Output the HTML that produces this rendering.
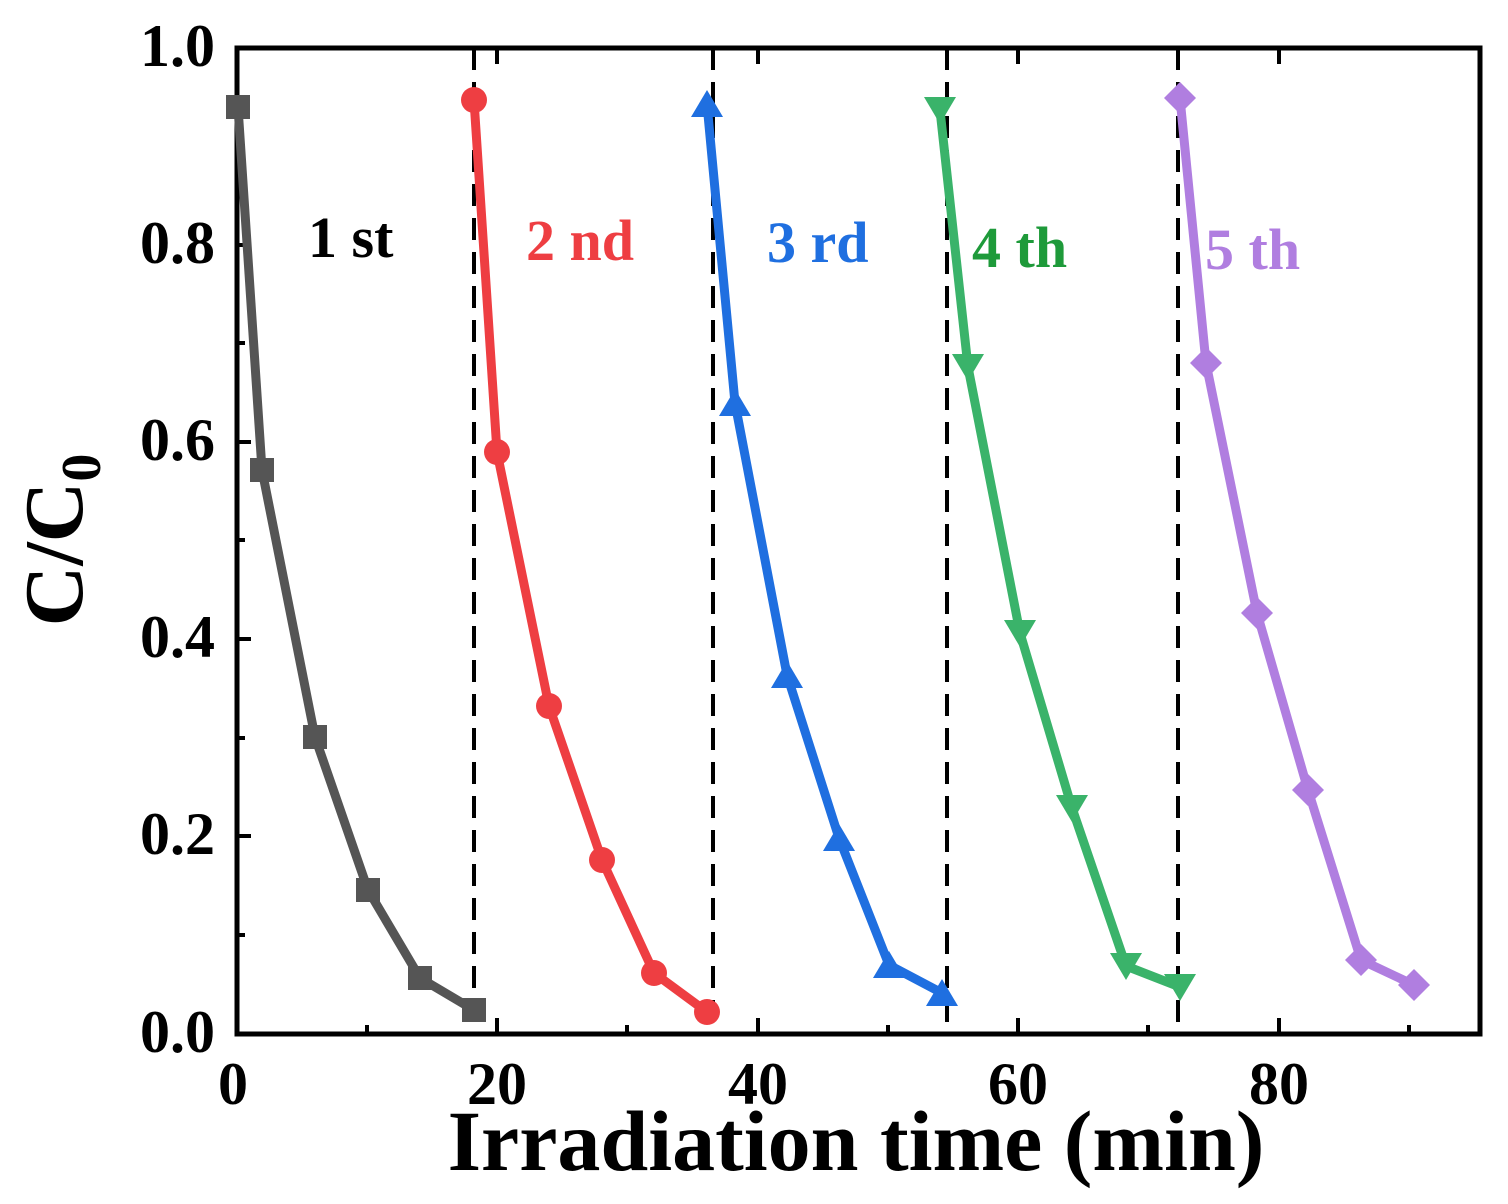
<!DOCTYPE html>
<html><head><style>html,body{margin:0;padding:0;background:#fff}</style></head>
<body>
<svg width="1508" height="1199" viewBox="0 0 1508 1199" xmlns="http://www.w3.org/2000/svg" font-family="Liberation Serif, serif" font-weight="bold">
<rect x="237" y="48" width="1243" height="986" fill="none" stroke="#000" stroke-width="5"/>
<g stroke="#000" stroke-width="4">
<line x1="237" y1="836" x2="251" y2="836"/><line x1="237" y1="639" x2="251" y2="639"/><line x1="237" y1="442" x2="251" y2="442"/><line x1="237" y1="245" x2="251" y2="245"/>
<line x1="237" y1="935" x2="245" y2="935"/><line x1="237" y1="738" x2="245" y2="738"/><line x1="237" y1="540" x2="245" y2="540"/><line x1="237" y1="343" x2="245" y2="343"/><line x1="237" y1="146" x2="245" y2="146"/>
<line x1="497" y1="1034" x2="497" y2="1018"/><line x1="758" y1="1034" x2="758" y2="1018"/><line x1="1018" y1="1034" x2="1018" y2="1018"/><line x1="1279" y1="1034" x2="1279" y2="1018"/>
<line x1="367" y1="1034" x2="367" y2="1025"/><line x1="627" y1="1034" x2="627" y2="1025"/><line x1="888" y1="1034" x2="888" y2="1025"/><line x1="1148" y1="1034" x2="1148" y2="1025"/><line x1="1409" y1="1034" x2="1409" y2="1025"/>
<line x1="497" y1="48" x2="497" y2="64"/><line x1="758" y1="48" x2="758" y2="64"/><line x1="1018" y1="48" x2="1018" y2="64"/><line x1="1279" y1="48" x2="1279" y2="64"/>
</g>
<g stroke="#000" stroke-width="4" stroke-dasharray="22,12">
<line x1="474" y1="48" x2="474" y2="1034"/><line x1="713" y1="48" x2="713" y2="1034"/><line x1="947" y1="48" x2="947" y2="1034"/><line x1="1178" y1="48" x2="1178" y2="1034"/>
</g>
<g fill="none" stroke-width="9" stroke-linejoin="round">
<polyline stroke="#555" points="238,107 262,470 315,737 368,890 420,978 474,1010"/>
<polyline stroke="#ee3e42" points="474,100 497,452 549,706 602,860 654,973 707,1012"/>
<polyline stroke="#1f6fe0" points="707,104 735,403 787,675 839,838 889,965 942,993"/>
<polyline stroke="#3ab36a" points="940,110 968,367 1020,633 1072,808 1126,966 1180,987"/>
<polyline stroke="#b07ee0" points="1180,98 1206,363 1257,613 1308,790 1361,960 1414,985"/>
</g>
<g fill="#555"><rect x="226" y="95" width="24" height="24"/><rect x="250" y="458" width="24" height="24"/><rect x="303" y="725" width="24" height="24"/><rect x="356" y="878" width="24" height="24"/><rect x="408" y="966" width="24" height="24"/><rect x="462" y="998" width="24" height="24"/></g>
<g fill="#ee3e42"><circle cx="474" cy="100" r="13"/><circle cx="497" cy="452" r="13"/><circle cx="549" cy="706" r="13"/><circle cx="602" cy="860" r="13"/><circle cx="654" cy="973" r="13"/><circle cx="707" cy="1012" r="13"/></g>
<g fill="#1f6fe0"><path d="M707,90 l16,27 h-32z"/><path d="M735,389 l16,27 h-32z"/><path d="M787,661 l16,27 h-32z"/><path d="M839,824 l16,27 h-32z"/><path d="M889,951 l16,27 h-32z"/><path d="M942,979 l16,27 h-32z"/></g>
<g fill="#3ab36a"><path d="M940,124 l16,-27 h-32z"/><path d="M968,381 l16,-27 h-32z"/><path d="M1020,647 l16,-27 h-32z"/><path d="M1072,822 l16,-27 h-32z"/><path d="M1126,980 l16,-27 h-32z"/><path d="M1180,1001 l16,-27 h-32z"/></g>
<g fill="#b07ee0"><path d="M1180,82 l16,16 l-16,16 l-16,-16z"/><path d="M1206,347 l16,16 l-16,16 l-16,-16z"/><path d="M1257,597 l16,16 l-16,16 l-16,-16z"/><path d="M1308,774 l16,16 l-16,16 l-16,-16z"/><path d="M1361,944 l16,16 l-16,16 l-16,-16z"/><path d="M1414,969 l16,16 l-16,16 l-16,-16z"/></g>
<g font-size="60" text-anchor="end">
<text x="215" y="66">1.0</text><text x="215" y="263">0.8</text><text x="215" y="460">0.6</text><text x="215" y="657">0.4</text><text x="215" y="854">0.2</text><text x="215" y="1052">0.0</text>
</g>
<g font-size="60" text-anchor="middle">
<text x="233" y="1104">0</text><text x="497" y="1104">20</text><text x="758" y="1104">40</text><text x="1018" y="1104">60</text><text x="1279" y="1104">80</text>
</g>
<text x="856" y="1170" font-size="86" text-anchor="middle">Irradiation time (min)</text>
<text transform="translate(82,540) rotate(-90)" font-size="84" text-anchor="middle">C/C<tspan font-size="56" dy="18">0</tspan></text>
<g font-size="58">
<text x="308" y="257" fill="#000">1 st</text>
<text x="526" y="260" fill="#ee3e42">2 nd</text>
<text x="767" y="262" fill="#1f6fe0">3 rd</text>
<text x="972" y="267" fill="#1e9a3a">4 th</text>
<text x="1205" y="269" fill="#b07ee0">5 th</text>
</g>
</svg>
</body></html>
